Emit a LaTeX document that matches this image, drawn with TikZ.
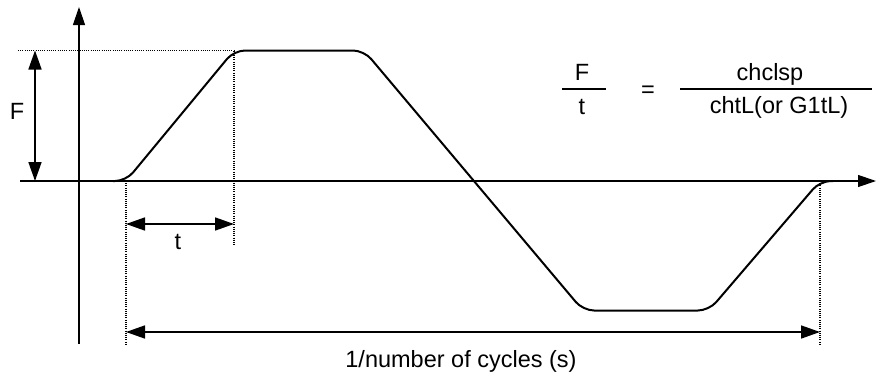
\documentclass[tikz,border=0pt]{standalone}
\usepackage{fontspec}
\setmainfont{Liberation Sans}
\usetikzlibrary{arrows.meta}
\begin{document}
\begin{tikzpicture}[x=1pt,y=-1pt,
  every node/.style={font=\fontsize{23.5}{27}\selectfont,inner sep=0pt},
  axis/.style={line width=1.2pt,-{Triangle[length=18pt,width=12pt]}},
  dim/.style={line width=1.6pt,{Triangle[length=19pt,width=13pt]}-{Triangle[length=19pt,width=13pt]}},
  guide/.style={line width=1.1pt,dash pattern=on 1pt off 1.2pt},
  wave/.style={line width=2pt,rounded corners=11pt}]
\useasboundingbox (0,0) rectangle (876,372);
% axes
\coordinate (yb) at (79,344);
\coordinate (yt) at (79,7);
\coordinate (xl) at (20,181);
\coordinate (xr) at (876,181);
\draw[axis] (yb) -- (yt);
\draw[axis] (xl) -- (xr);
% corners of the waveform
\coordinate (w0) at (113,181);
\coordinate (w1) at (126,181);
\coordinate (w2) at (234,50.5);
\coordinate (w3) at (364,50.5);
\coordinate (w4) at (583,310.5);
\coordinate (w5) at (709,310.5);
\coordinate (w6) at (820,181);
\coordinate (w7) at (833,181);
\draw[wave] (w0) -- (w1) -- (w2) -- (w3) -- (w4) -- (w5) -- (w6) -- (w7);
% guides
\coordinate (gl) at (18,50.5);
\coordinate (g1) at (126,345);
\coordinate (g2) at (234,245);
\coordinate (g3) at (820,345);
\draw[guide] (gl) -- (w2);
\draw[guide] (w1) -- (g1);
\draw[guide] (w2) -- (g2);
\draw[guide] (w6) -- (g3);
% dimensions
\coordinate (fa) at (35,50.5);
\coordinate (fb) at (35,181);
\draw[dim] (fa) -- (fb);
\node[anchor=base] (lF) at (17,119) {F};
\coordinate (ta) at (126,224);
\coordinate (tb) at (234,224);
\draw[dim] (ta) -- (tb);
\node[anchor=base] (lt) at (178,249) {t};
\coordinate (pa) at (126,332);
\coordinate (pb) at (820,332);
\draw[dim] (pa) -- (pb);
\node[anchor=base] (lp) at (461,367) {1/number of cycles (s)};
% ratio
\node[anchor=base] (nF) at (582,80) {F};
\node[anchor=base] (nt) at (582,114) {t};
\coordinate (b1l) at (562,89);
\coordinate (b1r) at (606,89);
\draw[line width=1.2pt] (b1l) -- (b1r);
\node (eq) at (648,92) {=};
\node[anchor=base] (nc) at (770,80) {chclsp};
\node[anchor=base] (nd) at (779,113) {chtL(or G1tL)};
\coordinate (b2l) at (680,89);
\coordinate (b2r) at (872,89);
\draw[line width=1.2pt] (b2l) -- (b2r);
\end{tikzpicture}
\end{document}
